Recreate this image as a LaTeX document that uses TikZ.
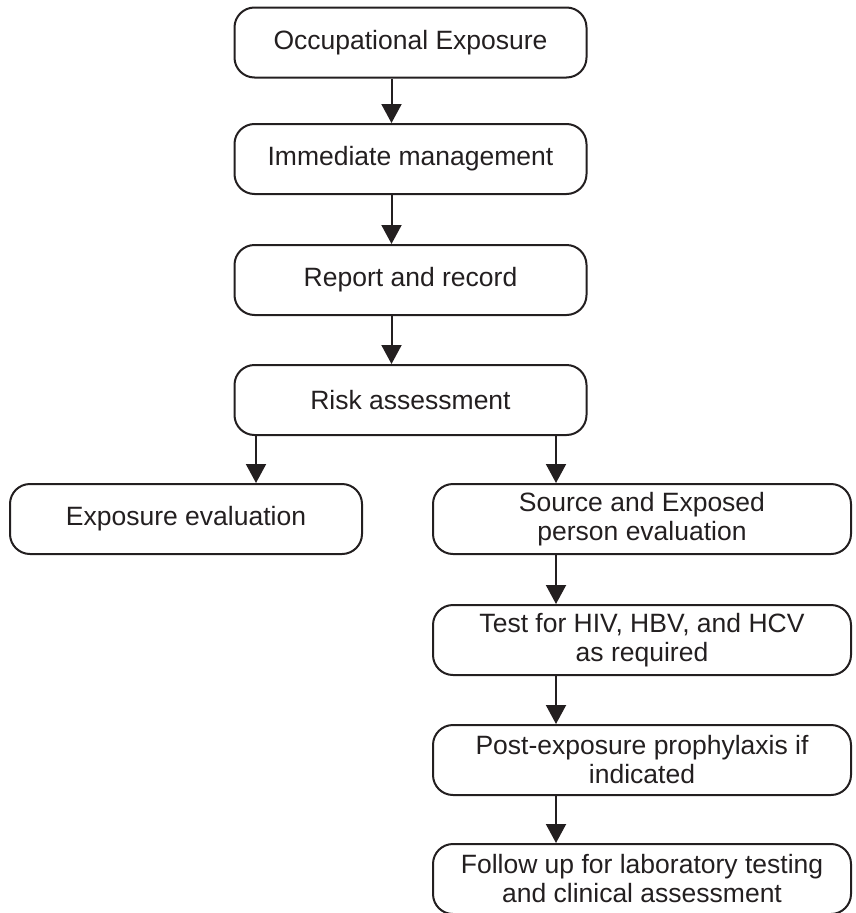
\documentclass[tikz,border=0pt]{standalone}
\usepackage{fontspec}
\setmainfont{Liberation Sans}
\usetikzlibrary{arrows.meta}
\definecolor{ink}{HTML}{231F20}
\tikzset{
  stepbox/.style={draw=ink, line width=2pt, rounded corners=20pt,
    minimum height=70pt, inner sep=0pt, align=center, text=ink,
    font=\fontsize{26.5pt}{29pt}\selectfont},
  mainbox/.style={stepbox, minimum width=352pt},
  widebox/.style={stepbox, minimum width=418pt},
  flow/.style={draw=ink, line width=2pt,
    -{Triangle[width=20pt,length=19pt]}, color=ink}
}
\begin{document}
\begin{tikzpicture}[x=1pt,y=-1pt]
\useasboundingbox (0,0) rectangle (855,913);

% main column
\node[mainbox] (occ)  at (410.5,42.5) {Occupational Exposure};
\node[mainbox] (imm)  at (410.5,159)  {Immediate management};
\node[mainbox] (rep)  at (410.5,280)  {Report and record};
\node[mainbox] (risk) at (410.5,400)  {Risk assessment};

% branches
\node[mainbox] (expo) at (186,519)  {Exposure evaluation};
\node[widebox] (src)  at (642,519)  {Source and Exposed\\person evaluation};
\node[widebox] (test) at (642,640)  {Test for HIV, HBV, and HCV\\as required};
\node[widebox] (pep)  at (642,760)  {Post-exposure prophylaxis if\\indicated};
\node[widebox] (fup)  at (642,879)  {Follow up for laboratory testing\\and clinical assessment};

% connectors
\draw[flow] ([xshift=-19pt]occ.south)  -- ([xshift=-19pt]imm.north);
\draw[flow] ([xshift=-19pt]imm.south)  -- ([xshift=-19pt]rep.north);
\draw[flow] ([xshift=-19pt]rep.south)  -- ([xshift=-19pt]risk.north);
\draw[flow] ([xshift=70pt]expo.north |- risk.south) -- ([xshift=70pt]expo.north);
\draw[flow] ([xshift=-86pt]src.north |- risk.south) -- ([xshift=-86pt]src.north);
\draw[flow] ([xshift=-86pt]src.south)  -- ([xshift=-86pt]test.north);
\draw[flow] ([xshift=-86pt]test.south) -- ([xshift=-86pt]pep.north);
\draw[flow] ([xshift=-86pt]pep.south)  -- ([xshift=-86pt]fup.north);
\end{tikzpicture}
\end{document}
